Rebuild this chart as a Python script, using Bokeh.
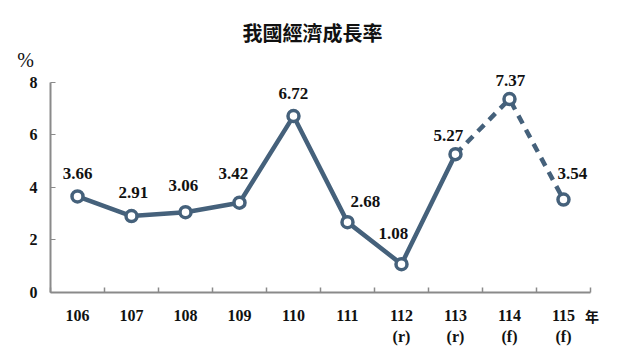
from bokeh.plotting import figure
from bokeh.models import Range1d, FixedTicker, ColumnDataSource
from bokeh.embed import file_html
from bokeh.resources import INLINE
from bokeh.core.properties import value

years = ["106", "107", "108", "109", "110", "111", "112", "113", "114", "115"]
notes = ["", "", "", "", "", "", "(r)", "(r)", "(f)", "(f)"]
growth = [3.66, 2.91, 3.06, 3.42, 6.72, 2.68, 1.08, 5.27, 7.37, 3.54]
label_dx = [0, 2, -2, -6, 0, 18, -8, -7, 1, 9]
label_dy = [23, 24, 27, 29, 23, 21, 31, 19, 19, 26]
y_ticks = [0, 2, 4, 6, 8]

n = len(years)
xs = [i + 0.5 for i in range(n)]
color = "#45617b"

p = figure(width=624, height=351, output_backend="svg", toolbar_location=None,
           x_range=Range1d(-0.926, 10.63), y_range=Range1d(-2.248, 9.219),
           min_border_left=0, min_border_right=0, min_border_top=50, min_border_bottom=0)
p.outline_line_color = None
p.grid.visible = False
p.background_fill_color = "white"

p.title.text = "我國經濟成長率"
p.title.align = "center"
p.title.text_font = "Noto Sans CJK TC"
p.title.text_font_size = "20px"
p.title.text_font_style = "bold"
p.title.text_color = "#111111"
p.title.standoff = 7

ya = p.yaxis[0]
ya.fixed_location = 0
ya.bounds = (0, 8)
ya.ticker = FixedTicker(ticks=y_ticks)
ya.axis_line_color = "#8a8a8a"
ya.axis_line_width = 2
ya.major_tick_line_color = "#8a8a8a"
ya.major_tick_in = 5
ya.major_tick_out = 0
ya.minor_tick_line_color = None
ya.major_label_text_font = "Liberation Serif"
ya.major_label_text_font_style = "bold"
ya.major_label_text_font_size = "16px"
ya.major_label_text_color = "#111111"
ya.major_label_standoff = 13

xa = p.xaxis[0]
xa.fixed_location = 0
xa.bounds = (0, n)
xa.ticker = FixedTicker(ticks=xs, minor_ticks=list(range(n + 1)))
xa.major_label_overrides = {x: (y if not nt else y + "\n" + nt) for x, y, nt in zip(xs, years, notes)}
xa.axis_line_color = "#8a8a8a"
xa.axis_line_width = 2
xa.major_tick_line_color = None
xa.minor_tick_line_color = "#8a8a8a"
xa.minor_tick_line_width = 1.5
xa.minor_tick_in = 5
xa.minor_tick_out = 0
xa.major_label_text_font = "Liberation Serif"
xa.major_label_text_font_style = "bold"
xa.major_label_text_font_size = "16px"
xa.major_label_text_color = "#111111"
xa.major_label_standoff = 9
xa.major_label_text_line_height = 1.2

p.line(xs[:8], growth[:8], line_color=color, line_width=4.5, line_join="round")
p.line(xs[7:], growth[7:], line_color=color, line_width=4.5, line_dash="9 7")
p.scatter(xs, growth, size=11, marker="circle", fill_color="white",
          line_color=color, line_width=3.5)

src = ColumnDataSource(dict(x=xs, y=growth, t=["%.2f" % g for g in growth],
                            dx=label_dx, dy=[-d for d in label_dy]))
p.text(x="x", y="y", text="t", x_offset="dx", y_offset="dy", source=src,
       text_font=value("Liberation Serif"), text_font_style="bold",
       text_font_size="17px", text_align="center", text_baseline="middle",
       text_color="#111111")

p.text(x=[-0.46], y=[8.85], text=["%"], text_font=value("Liberation Serif"),
       text_font_size="20px", text_align="center", text_baseline="middle",
       text_color="#111111")
p.text(x=[9.9], y=[-0.88], text=["年"], text_font=value("Noto Sans CJK TC"),
       text_font_style="bold", text_font_size="14px", text_align="left",
       text_baseline="middle", text_color="#111111")

open("out.html", "w").write(file_html(p, INLINE))
